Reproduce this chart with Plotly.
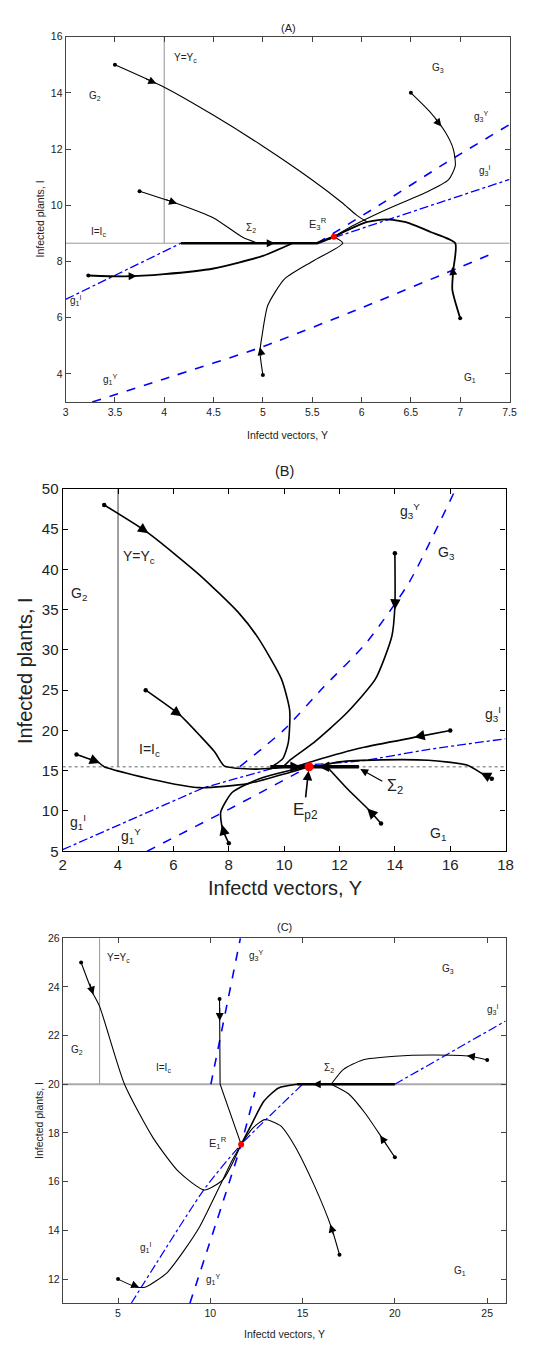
import plotly.graph_objects as go

FONT = "Liberation Sans, Arial, Helvetica, sans-serif"
BLUE = "rgb(0,0,255)"

# ================= Panel A data =================
A_IC = 8.65
A_YC = 4.0
A_X_TICKS = [3, 3.5, 4, 4.5, 5, 5.5, 6, 6.5, 7, 7.5]
A_Y_TICKS = [4, 6, 8, 10, 12, 14, 16]
A_E = [5.72, 8.88]

A_G3Y_X = [5.55, 6.2, 6.85, 7.5]
A_G3Y_Y = [8.65, 10.05, 11.5, 12.87]
A_G3I_X = [5.55, 7.5]
A_G3I_Y = [8.65, 10.92]
A_G1I_X = [3.0, 4.17]
A_G1I_Y = [6.65, 8.65]
A_G1Y_X = [3.27, 4.0, 5.0, 6.0, 7.0, 7.35]
A_G1Y_Y = [3.0, 3.82, 4.97, 6.35, 7.8, 8.32]

A_T1_X = [3.5, 4.0, 4.5, 5.0, 5.5, 5.8, 5.95, 6.05]
A_T1_Y = [15.0, 14.2, 13.2, 12.1, 10.9, 10.1, 9.65, 9.42]
A_T2_X = [3.75, 4.1, 4.5, 4.8, 4.95]
A_T2_Y = [10.5, 10.1, 9.55, 8.85, 8.65]
A_T3_X = [3.23, 3.6, 4.0, 4.5, 5.0, 5.3]
A_T3_Y = [7.5, 7.47, 7.55, 7.75, 8.2, 8.65]
A_T4_X = [7.0, 6.92, 6.93, 6.95, 6.7, 6.45, 6.25, 6.05, 5.88, 5.72]
A_T4_Y = [5.98, 7.0, 7.7, 8.65, 9.05, 9.4, 9.5, 9.4, 9.15, 8.88]
A_T5_X = [6.5, 6.7, 6.85, 6.93, 6.95, 6.88, 6.65, 6.35, 6.1, 5.9, 5.72]
A_T5_Y = [14.0, 13.3, 12.6, 12.0, 11.4, 10.9, 10.45, 10.0, 9.6, 9.25, 8.88]
A_T6_X = [5.0, 4.97, 4.99, 5.05, 5.22, 5.51, 5.81, 5.72]
A_T6_Y = [3.96, 4.8, 5.33, 6.44, 7.38, 8.02, 8.65, 8.88]
A_SLIDE_X = [4.17, 5.55, 5.72]
A_SLIDE_Y = [8.65, 8.65, 8.88]
A_START_X = [3.5, 3.75, 3.23, 7.0, 6.5, 5.0]
A_START_Y = [15.0, 10.5, 7.5, 5.98, 14.0, 3.96]
# arrows: head x, head y, tail x, tail y
A_ARROWS = [(3.92, 14.33, 3.8, 14.52), (4.13, 10.06, 4.0, 10.22),
            (5.12, 8.65, 5.0, 8.65), (3.72, 7.48, 3.6, 7.47),
            (6.92, 7.8, 6.93, 7.5), (6.81, 12.8, 6.74, 13.1),
            (4.97, 4.95, 4.99, 4.6)]

# ================= Panel B data =================
B_IC = 15.5
B_YC = 4.0
B_X_TICKS = [2, 4, 6, 8, 10, 12, 14, 16, 18]
B_Y_TICKS = [5, 10, 15, 20, 25, 30, 35, 40, 45, 50]
B_E = [10.9, 15.5]

B_G3Y_X = [8.4, 10.0, 11.4, 12.95, 14.5, 16.2]
B_G3Y_Y = [15.5, 20.1, 25.3, 30.8, 38.3, 50.0]
B_G1Y_X = [5.05, 8.0, 10.9]
B_G1Y_Y = [5.0, 10.2, 15.5]
B_G1I_X = [2.0, 7.1, 9.8]
B_G1I_Y = [5.2, 12.9, 15.5]
B_G3I_X = [9.8, 12.83, 15.19, 18.0]
B_G3I_Y = [15.5, 16.25, 17.63, 18.97]

B_T1_X = [3.5, 5.06, 6.95, 8.36, 9.06, 9.9, 10.2, 10.15, 9.95, 9.6]
B_T1_Y = [48.0, 44.6, 39.3, 34.6, 31.5, 26.4, 22.5, 18.5, 16.5, 15.6]
B_T2_X = [5.0, 6.24, 7.0, 7.5, 7.83, 8.3, 9.0, 9.6, 10.2]
B_T2_Y = [25.0, 21.9, 19.2, 17.3, 15.6, 15.3, 15.2, 15.3, 15.5]
B_T3_X = [2.5, 3.3, 3.5, 5.2, 6.95, 8.7, 9.9, 10.9]
B_T3_Y = [17.0, 16.0, 15.5, 13.95, 12.9, 13.4, 14.5, 15.5]
B_T4_X = [8.0, 7.77, 7.71, 8.12, 9.06, 10.12, 10.9]
B_T4_Y = [6.0, 7.8, 9.87, 12.3, 13.95, 14.97, 15.5]
B_T5_X = [14.0, 14.0, 13.89, 13.3, 12.24, 11.07, 10.24, 10.0]
B_T5_Y = [42.0, 35.4, 31.7, 26.4, 22.1, 18.5, 16.4, 15.6]
B_T6_X = [16.0, 14.8, 12.8, 11.1, 10.5]
B_T6_Y = [20.0, 19.2, 17.85, 16.25, 15.6]
B_T7_X = [17.5, 17.2, 16.6, 15.2, 13.5, 12.0, 11.3]
B_T7_Y = [14.0, 14.55, 15.7, 16.3, 16.35, 16.1, 15.6]
B_T8_X = [13.5, 13.07, 12.3, 11.55]
B_T8_Y = [8.45, 10.1, 12.7, 15.5]
B_SLIDE_X = [9.5, 12.7]
B_SLIDE_Y = [15.5, 15.5]
B_START_X = [3.5, 5.0, 2.5, 8.0, 14.0, 16.0, 17.5, 13.5]
B_START_Y = [48.0, 25.0, 17.0, 6.0, 42.0, 20.0, 14.0, 8.45]
B_ARROWS = [(5.1, 44.5, 4.8, 45.2), (6.3, 21.75, 6.0, 22.5),
            (3.35, 15.95, 3.1, 16.3), (7.76, 8.3, 7.85, 7.0),
            (14.0, 35.0, 14.02, 36.5), (14.7, 19.15, 15.1, 19.45),
            (17.1, 14.75, 17.3, 14.4), (13.0, 10.3, 13.2, 9.6),
            (10.6, 15.5, 10.3, 15.5), (11.25, 15.5, 11.6, 15.5)]

# ================= Panel C data =================
C_IC = 20.0
C_YC = 4.0
C_X_TICKS = [5, 10, 15, 20, 25]
C_Y_TICKS = [12, 14, 16, 18, 20, 22, 24, 26]
C_E = [11.67, 17.53]

C_G3Y_X = [10.03, 11.63]
C_G3Y_Y = [20.0, 26.0]
C_G1Y_X = [8.89, 11.67, 12.42]
C_G1Y_Y = [11.0, 17.53, 19.69]
C_G1I_X = [5.71, 9.68, 11.67, 15.0]
C_G1I_Y = [11.0, 15.7, 17.53, 20.0]
C_G3I_X = [20.0, 26.0]
C_G3I_Y = [20.0, 22.6]

C_T1_X = [3.0, 3.63, 4.0, 5.35, 6.9, 8.3, 9.68, 10.7, 11.67]
C_T1_Y = [25.0, 23.75, 23.2, 20.0, 17.8, 16.4, 15.66, 16.1, 17.53]
C_T2_X = [10.5, 10.51, 10.53, 11.67]
C_T2_Y = [23.5, 22.87, 20.0, 17.53]
C_T3_X = [11.67, 12.2, 12.9, 13.7, 14.7, 20.0]
C_T3_Y = [17.53, 18.3, 19.3, 19.85, 20.0, 20.0]
C_T4_X = [25.0, 24.1, 22.0, 20.0, 18.25, 17.2, 16.55]
C_T4_Y = [21.0, 21.15, 21.2, 21.15, 21.0, 20.6, 20.0]
C_T5_X = [20.0, 19.3, 18.4, 17.5, 16.55]
C_T5_Y = [17.0, 17.8, 18.8, 19.6, 20.0]
C_T6_X = [17.0, 16.57, 15.6, 14.55, 13.8, 12.95, 12.3, 11.67]
C_T6_Y = [13.0, 14.1, 15.9, 17.5, 18.3, 18.55, 18.2, 17.53]
C_T7_X = [5.0, 5.97, 6.5, 7.65, 8.6, 9.42, 10.48, 11.2, 11.67]
C_T7_Y = [12.0, 11.68, 11.68, 12.26, 13.2, 14.15, 15.77, 16.9, 17.53]
C_START_X = [3.0, 10.5, 25.0, 20.0, 17.0, 5.0]
C_START_Y = [25.0, 23.5, 21.0, 17.0, 13.0, 12.0]
C_ARROWS = [(3.66, 23.68, 3.45, 24.2), (10.51, 22.6, 10.51, 23.2),
            (15.55, 20.0, 16.0, 20.0), (23.9, 21.17, 24.4, 21.12),
            (19.2, 17.9, 19.6, 17.45), (16.5, 14.25, 16.7, 13.75),
            (6.15, 11.66, 5.7, 11.8)]

W, H = 541, 1349
fig = go.Figure()
annotations = []


def px_x(p):
    return p / W


def px_y(p):
    return 1 - p / H


def line(xs, ys, ax, color="black", width=1.2, dash="solid"):
    fig.add_trace(go.Scatter(x=xs, y=ys, mode="lines", xaxis=ax[0], yaxis=ax[1],
                             line=dict(color=color, width=width, dash=dash, shape="spline", smoothing=0.6),
                             showlegend=False, hoverinfo="skip"))


def straight(xs, ys, ax, color, width, dash="solid"):
    fig.add_trace(go.Scatter(x=xs, y=ys, mode="lines", xaxis=ax[0], yaxis=ax[1],
                             line=dict(color=color, width=width, dash=dash),
                             showlegend=False, hoverinfo="skip"))


def dots(xs, ys, ax, size=4):
    fig.add_trace(go.Scatter(x=xs, y=ys, mode="markers", xaxis=ax[0], yaxis=ax[1],
                             marker=dict(color="black", size=size), showlegend=False, hoverinfo="skip"))


def red(pt, ax, size):
    fig.add_trace(go.Scatter(x=[pt[0]], y=[pt[1]], mode="markers", xaxis=ax[0], yaxis=ax[1],
                             marker=dict(color="red", size=size), showlegend=False, hoverinfo="skip"))


def arrows(lst, ax, size=1.5, width=1.0):
    for hx, hy, tx, ty in lst:
        annotations.append(dict(x=hx, y=hy, ax=tx, ay=ty, xref=ax[0], yref=ax[1],
                                axref=ax[0], ayref=ax[1], text="", showarrow=True,
                                arrowhead=2, arrowsize=size, arrowwidth=width,
                                arrowcolor="black", standoff=0))


def label(x, y, text, ax, size, xanchor="center"):
    annotations.append(dict(x=x, y=y, xref=ax[0], yref=ax[1], text=text, showarrow=False,
                            font=dict(size=size, color="#222", family=FONT),
                            xanchor=xanchor, yanchor="middle"))


def plabel(xp, yp, text, size, angle=0):
    annotations.append(dict(x=px_x(xp), y=px_y(yp), xref="paper", yref="paper", text=text,
                            showarrow=False, textangle=angle, xanchor="center", yanchor="middle",
                            font=dict(size=size, color="#222", family=FONT)))


# ---------------- Panel A ----------------
AA = ("x", "y")
straight([3, 7.5], [A_IC, A_IC], AA, "#999", 1)
straight([A_YC, A_YC], [A_IC, 16], AA, "#aaa", 1.3)
line(A_G3Y_X, A_G3Y_Y, AA, BLUE, 1.6, "dash")
line(A_G1Y_X, A_G1Y_Y, AA, BLUE, 1.6, "dash")
straight(A_G3I_X, A_G3I_Y, AA, BLUE, 1.3, "dashdot")
straight(A_G1I_X, A_G1I_Y, AA, BLUE, 1.3, "dashdot")
line(A_T1_X, A_T1_Y, AA, width=1.1)
line(A_T2_X, A_T2_Y, AA, width=1.1)
line(A_T3_X, A_T3_Y, AA, width=1.8)
line(A_T4_X, A_T4_Y, AA, width=1.8)
line(A_T5_X, A_T5_Y, AA, width=1.1)
line(A_T6_X, A_T6_Y, AA, width=1.1)
straight(A_SLIDE_X, A_SLIDE_Y, AA, "black", 2.4)
dots(A_START_X, A_START_Y, AA, 4)
red(A_E, AA, 6)
arrows(A_ARROWS, AA, 1.6, 1.0)
fsA = 10
label(4.08, 15.25, "Y=Y<sub>c</sub>", AA, fsA, "left")
label(3.3, 13.9, "G<sub>2</sub>", AA, fsA)
label(6.77, 14.9, "G<sub>3</sub>", AA, fsA)
label(7.21, 13.15, "g<sub>3</sub><sup>Y</sup>", AA, fsA)
label(7.25, 11.25, "g<sub>3</sub><sup>I</sup>", AA, fsA)
label(3.33, 9.05, "I=I<sub>c</sub>", AA, fsA)
label(4.88, 9.2, "Σ<sub>2</sub>", AA, fsA)
label(5.56, 9.35, "E<sub>3</sub><sup>R</sup>", AA, 11)
label(3.1, 6.6, "g<sub>1</sub><sup>I</sup>", AA, fsA)
label(3.45, 3.8, "g<sub>1</sub><sup>Y</sup>", AA, fsA)
label(7.1, 3.85, "G<sub>1</sub>", AA, fsA)
plabel(291, 19, "(A)", 11)
plabel(290, 431, "Infectd vectors, Y", 10.5)
plabel(37, 213, "Infected plants, I", 10.5, -90)

# ---------------- Panel B ----------------
BB = ("x2", "y2")
straight([2, 18], [B_IC, B_IC], BB, "#999", 1.6, "dot")
straight([B_YC, B_YC], [B_IC, 50], BB, "#888", 1.6)
line(B_G3Y_X, B_G3Y_Y, BB, BLUE, 1.5, "dash")
straight(B_G1Y_X, B_G1Y_Y, BB, BLUE, 1.5, "dash")
straight(B_G1I_X, B_G1I_Y, BB, BLUE, 1.3, "dashdot")
line(B_G3I_X, B_G3I_Y, BB, BLUE, 1.3, "dashdot")
for xs, ys in [(B_T1_X, B_T1_Y), (B_T2_X, B_T2_Y), (B_T3_X, B_T3_Y), (B_T4_X, B_T4_Y),
               (B_T5_X, B_T5_Y), (B_T6_X, B_T6_Y), (B_T7_X, B_T7_Y), (B_T8_X, B_T8_Y)]:
    line(xs, ys, BB, width=1.6)
straight(B_SLIDE_X, B_SLIDE_Y, BB, "black", 3.5)
dots(B_START_X, B_START_Y, BB, 4.5)
red(B_E, BB, 9)
arrows(B_ARROWS, BB, 1.6, 1.3)
annotations.append(dict(x=10.88, y=15.0, ax=10.77, ay=11.5, xref="x2", yref="y2", axref="x2",
                        ayref="y2", text="", showarrow=True, arrowhead=2, arrowsize=1.2,
                        arrowwidth=1.6, arrowcolor="black", standoff=0))
annotations.append(dict(x=12.75, y=15.2, ax=13.6, ay=13.6, xref="x2", yref="y2", axref="x2",
                        ayref="y2", text="", showarrow=True, arrowhead=2, arrowsize=1.3,
                        arrowwidth=1.2, arrowcolor="black", standoff=0))
fsB = 14
label(4.1, 41.5, "Y=Y<sub>c</sub>", BB, fsB, "left")
label(2.6, 37.0, "G<sub>2</sub>", BB, fsB)
label(14.55, 47.3, "g<sub>3</sub><sup>Y</sup>", BB, fsB)
label(15.85, 42.0, "G<sub>3</sub>", BB, fsB)
label(17.55, 22.0, "g<sub>3</sub><sup>I</sup>", BB, fsB)
label(5.12, 17.6, "I=I<sub>c</sub>", BB, fsB)
label(2.55, 8.6, "g<sub>1</sub><sup>I</sup>", BB, fsB)
label(4.47, 6.9, "g<sub>1</sub><sup>Y</sup>", BB, fsB)
label(15.55, 7.1, "G<sub>1</sub>", BB, fsB)
label(10.77, 10.0, "E<sub>p2</sub>", BB, 17)
label(14.0, 13.0, "Σ<sub>2</sub>", BB, 16)
plabel(287, 468, "(B)", 14.5)
plabel(287, 890, "Infectd vectors, Y", 20)
plabel(21, 670, "Infected plants, I", 20, -90)

# ---------------- Panel C ----------------
CC = ("x3", "y3")
straight([2, 26], [C_IC, C_IC], CC, "#aaa", 2)
straight([C_YC, C_YC], [C_IC, 26], CC, "#999", 1)
straight(C_G3Y_X, C_G3Y_Y, CC, BLUE, 1.6, "dash")
line(C_G1Y_X, C_G1Y_Y, CC, BLUE, 1.6, "dash")
line(C_G1I_X, C_G1I_Y, CC, BLUE, 1.2, "dashdot")
straight(C_G3I_X, C_G3I_Y, CC, BLUE, 1.2, "dashdot")
line(C_T1_X, C_T1_Y, CC, width=1.1)
straight(C_T2_X, C_T2_Y, CC, "black", 1.1)
line(C_T3_X[:5], C_T3_Y[:5], CC, width=1.6)
straight(C_T3_X[4:], C_T3_Y[4:], CC, "black", 2.4)
line(C_T4_X, C_T4_Y, CC, width=1.1)
line(C_T5_X, C_T5_Y, CC, width=1.1)
line(C_T6_X, C_T6_Y, CC, width=1.1)
line(C_T7_X, C_T7_Y, CC, width=1.1)
dots(C_START_X, C_START_Y, CC, 4)
red(C_E, CC, 6)
arrows(C_ARROWS, CC, 1.6, 1.0)
fsC = 10
label(4.3, 25.2, "Y=Y<sub>c</sub>", CC, fsC, "left")
label(12.45, 25.3, "g<sub>3</sub><sup>Y</sup>", CC, fsC)
label(22.9, 24.75, "G<sub>3</sub>", CC, fsC)
label(25.3, 23.05, "g<sub>3</sub><sup>I</sup>", CC, fsC)
label(2.8, 21.4, "G<sub>2</sub>", CC, fsC)
label(7.47, 20.65, "I=I<sub>c</sub>", CC, fsC)
label(16.43, 20.65, "Σ<sub>2</sub>", CC, fsC)
label(10.4, 17.6, "E<sub>1</sub><sup>R</sup>", CC, 11)
label(6.5, 13.3, "g<sub>1</sub><sup>I</sup>", CC, fsC)
label(10.12, 12.0, "g<sub>1</sub><sup>Y</sup>", CC, fsC)
label(23.55, 12.35, "G<sub>1</sub>", CC, fsC)
plabel(287, 930, "(C)", 11)
plabel(287, 1342, "Infectd vectors, Y", 10.5)
plabel(36, 1126, "Infected plants, I", 10.5, -90)


def axis(domain, anchor, rng, ticks, fs, lc, lw):
    return dict(domain=domain, anchor=anchor, range=rng, tickvals=ticks,
                ticktext=["%g" % t for t in ticks],
                showgrid=False, zeroline=False, showline=True, mirror="ticks",
                linecolor=lc, linewidth=lw, ticks="inside", ticklen=5, tickcolor=lc,
                tickfont=dict(size=fs, color="#222", family=FONT))


fig.update_layout(
    width=W, height=H, margin=dict(l=0, r=0, t=0, b=0),
    paper_bgcolor="white", plot_bgcolor="white",
    font=dict(family=FONT),
    xaxis=axis([px_x(63), px_x(517)], "y", [3, 7.5], A_X_TICKS, 10.5, "#444", 1),
    yaxis=axis([px_y(398), px_y(28)], "x", [3, 16], A_Y_TICKS, 10.5, "#444", 1),
    xaxis2=axis([px_x(60), px_x(513)], "y2", [2, 18], B_X_TICKS, 15, "black", 1.3),
    yaxis2=axis([px_y(853), px_y(486)], "x2", [5, 50], B_Y_TICKS, 15, "black", 1.3),
    xaxis3=axis([px_x(60), px_x(513)], "y3", [2, 26], C_X_TICKS, 10.5, "#444", 1),
    yaxis3=axis([px_y(1311), px_y(941)], "x3", [11, 26], C_Y_TICKS, 10.5, "#444", 1),
    annotations=annotations,
)

fig.write_html("out.html")
